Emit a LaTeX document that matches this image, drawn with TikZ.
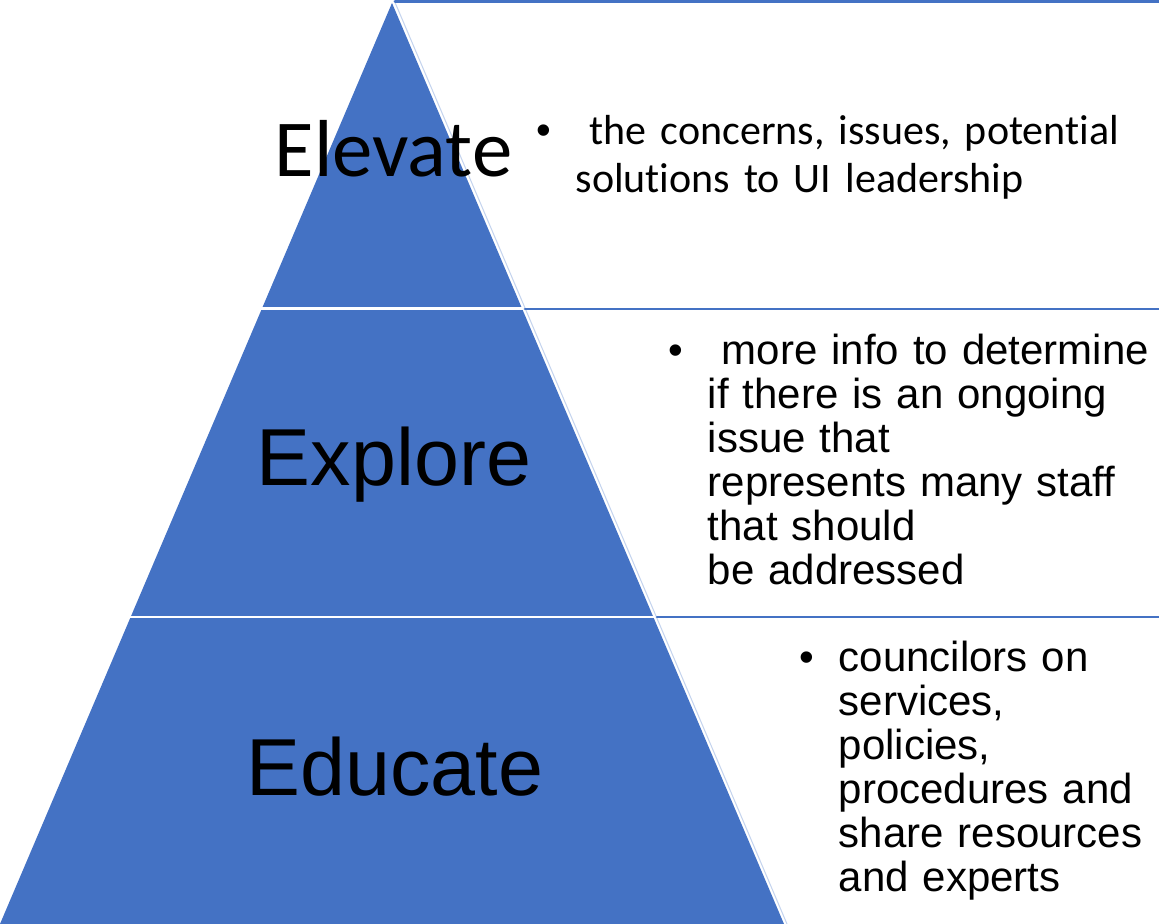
\documentclass[tikz,border=0pt]{standalone}
\usepackage{fontspec}
\setmainfont{Liberation Sans}
\newfontfamily\calibri[Ligatures=NoCommon]{Carlito}
\usepackage{tkz-euclide}
\definecolor{tierblue}{HTML}{4472C4}
\definecolor{edgeblue}{HTML}{C5D4EE}
\tikzset{
  tierlabel/.style={inner sep=0pt, anchor=base, font=\fontsize{23}{23}\selectfont},
  bullettext/.style={inner sep=0pt, anchor=base west, align=left, text width=6cm},
  armfont/.style={font=\fontsize{11.95}{12.5}\selectfont},
  calfont/.style={font=\calibri\fontsize{11.95}{13.4}\selectfont}
}
\newcommand{\myBullet}[4]{
\node[bullettext, #2] (#1) at (#3) {#4};
\node[armfont, inner sep=0pt, anchor=base east] (#1-dot) at ([xshift=-0.23cm]#1.base west) {\textbullet};
}

\begin{document}
\begin{tikzpicture}
	\path[use as bounding box] (0,0) rectangle (11.59,9.24);
	\tkzDefPoints{0/0/A, 7.84/0/B, 3.92/9.21/C}
	% filling the pyramid
	\tkzFillPolygon[color=tierblue](A,B,C)
	% thin light edge on the right side
	\tkzDefPoints{3.94/9.24/E, 7.87/0/F}
	\tkzDrawSegment[edgeblue, line width=0.3pt](E,F)
	% white cuts between the tiers
	\tkzDefPoints{2.55/6.151/L1, 5.23/6.151/R1, 1.25/3.07/L2, 6.55/3.07/R2}
	\tkzDrawSegments[white, line width=0.8pt](L1,R1 L2,R2)
	% blue rules on the right
	\tkzDefPoints{3.95/9.225/T0, 11.59/9.225/U0, 5.25/6.15/T1, 11.59/6.15/U1, 6.57/3.07/T2, 11.59/3.07/U2}
	\tkzDrawSegments[tierblue, line width=0.8pt](T0,U0 T1,U1 T2,U2)
	% tier names
	\node[tierlabel, font=\calibri\fontsize{23}{23}\selectfont] (elevate) at (3.935,7.47) {Elevate};
	\node[tierlabel] (explore) at (3.94,4.38) {Explore};
	\node[tierlabel] (educate) at (3.95,1.28) {Educate};
	% bullet notes
	\myBullet{elevnote}{calfont}{5.75,7.79}{\ the concerns, issues, potential\\solutions to UI leadership}
	\myBullet{explnote}{armfont}{7.07,5.59}{\ more info to determine\\if there is an ongoing\\issue that\\represents many staff\\that should\\be addressed}
	\myBullet{educnote}{armfont}{8.38,2.52}{councilors on\\services,\\policies,\\procedures and\\share resources\\and experts}
\end{tikzpicture}
\end{document}
